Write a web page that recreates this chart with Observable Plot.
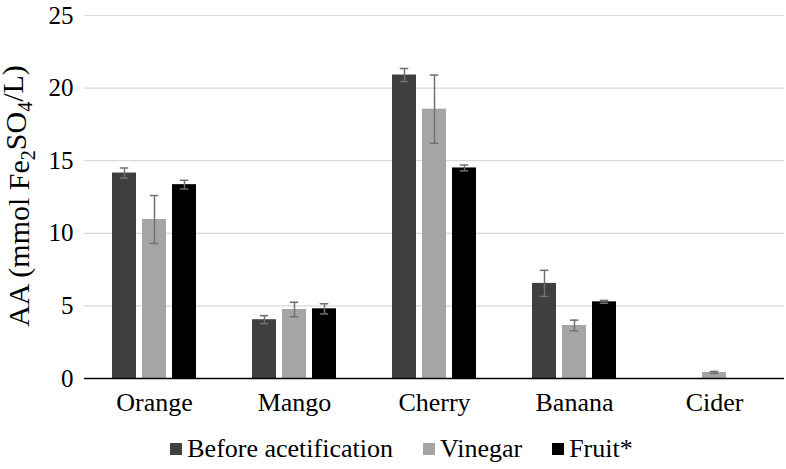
<!DOCTYPE html>
<html><head><meta charset="utf-8">
<script src="https://cdn.jsdelivr.net/npm/d3@7"></script>
<script src="https://cdn.jsdelivr.net/npm/@observablehq/plot@0.6"></script>
<style>
body{margin:0;background:#fff;font-family:'Liberation Serif',serif;}
#legend{display:flex;justify-content:center;align-items:center;height:40px;margin-top:7px;font-family:'Liberation Serif',serif;font-size:26px;color:#000;padding-left:17px;box-sizing:border-box;width:786px;}
.item{display:flex;align-items:center;margin:0 15px;}
.sw{width:12px;height:12px;margin-right:5px;}
</style></head><body><div id="chart"></div><div id="legend"></div>
<script>
const categories = ["Orange", "Mango", "Cherry", "Banana", "Cider"];
const seriesNames = ["Before acetification", "Vinegar", "Fruit*"];
const colors = ["#404040", "#a5a5a5", "#000000"];
const yTicks = [0, 5, 10, 15, 20, 25];

const beforeValues = [14.15, 4.05, 20.9, 6.55, null];
const beforeErrors = [0.35, 0.28, 0.45, 0.9, null];
const vinegarValues = [10.95, 4.75, 18.55, 3.65, 0.42];
const vinegarErrors = [1.65, 0.5, 2.35, 0.37, 0.07];
const fruitValues = [13.35, 4.8, 14.5, 5.28, null];
const fruitErrors = [0.3, 0.35, 0.2, 0.1, null];

const values = [beforeValues, vinegarValues, fruitValues];
const errors = [beforeErrors, vinegarErrors, fruitErrors];

const data = [];
categories.forEach((c, i) => {
  seriesNames.forEach((s, j) => {
    data.push({category: c, series: s, value: values[j][i], err: errors[j][i]});
  });
});
const bars = data.filter(d => d.value != null);
const errs = bars.filter(d => d.err != null);

const serif = "'Liberation Serif', serif";
const errStyle = {stroke: "#707070", strokeWidth: 1.5};

const plot = Plot.plot({
  width: 786, height: 422,
  marginLeft: 83, marginRight: 2, marginTop: 15, marginBottom: 44,
  style: {fontFamily: serif, fontSize: "25px", color: "#000", background: "#fff"},
  fx: {domain: categories, padding: 0, label: null},
  x: {domain: seriesNames, paddingInner: 0.21, paddingOuter: 0.87, axis: null},
  y: {domain: [0, 25], label: null},
  color: {domain: seriesNames, range: colors},
  marks: [
    Plot.gridY(yTicks, {stroke: "#d9d9d9", strokeOpacity: 1, strokeWidth: 1.2}),
    Plot.axisY(yTicks, {tickSize: 0, tickPadding: 11, fontSize: 25, fontFamily: serif, label: null}),
    Plot.axisFx({anchor: "bottom", tickSize: 0, tickPadding: 14, fontSize: 26, fontFamily: serif, label: null}),
    Plot.barY(bars, {fx: "category", x: "series", y: "value", fill: "series"}),
    Plot.ruleX(errs, {fx: "category", x: "series", y1: d => d.value - d.err, y2: d => d.value + d.err, ...errStyle}),
    Plot.tickY(errs, {fx: "category", x: "series", y: d => d.value - d.err, insetLeft: 7.75, insetRight: 7.75, ...errStyle}),
    Plot.tickY(errs, {fx: "category", x: "series", y: d => d.value + d.err, insetLeft: 7.75, insetRight: 7.75, ...errStyle}),
    Plot.ruleY([0], {stroke: "#000", strokeWidth: 1.5})
  ]
});
document.getElementById("chart").appendChild(plot);

// Y axis title with subscripts
const svg = d3.select(plot);
const t = svg.append("text")
  .attr("transform", "translate(29,196) rotate(-90)")
  .attr("text-anchor", "middle")
  .attr("font-size", 30)
  .attr("font-family", serif)
  .attr("fill", "#000");
t.append("tspan").text("AA (mmol Fe");
t.append("tspan").attr("font-size", 20).attr("dy", "0.3em").text("2");
t.append("tspan").attr("dy", "-0.3em").text("SO");
t.append("tspan").attr("font-size", 20).attr("dy", "0.3em").text("4");
t.append("tspan").attr("dy", "-0.3em").text("/L)");

// Legend
const legend = d3.select("#legend");
seriesNames.forEach((s, i) => {
  const it = legend.append("div").attr("class", "item");
  it.append("div").attr("class", "sw").style("background", colors[i]);
  it.append("span").style("font-family", serif).style("font-size", "26px").text(s);
});
</script>
</body></html>
